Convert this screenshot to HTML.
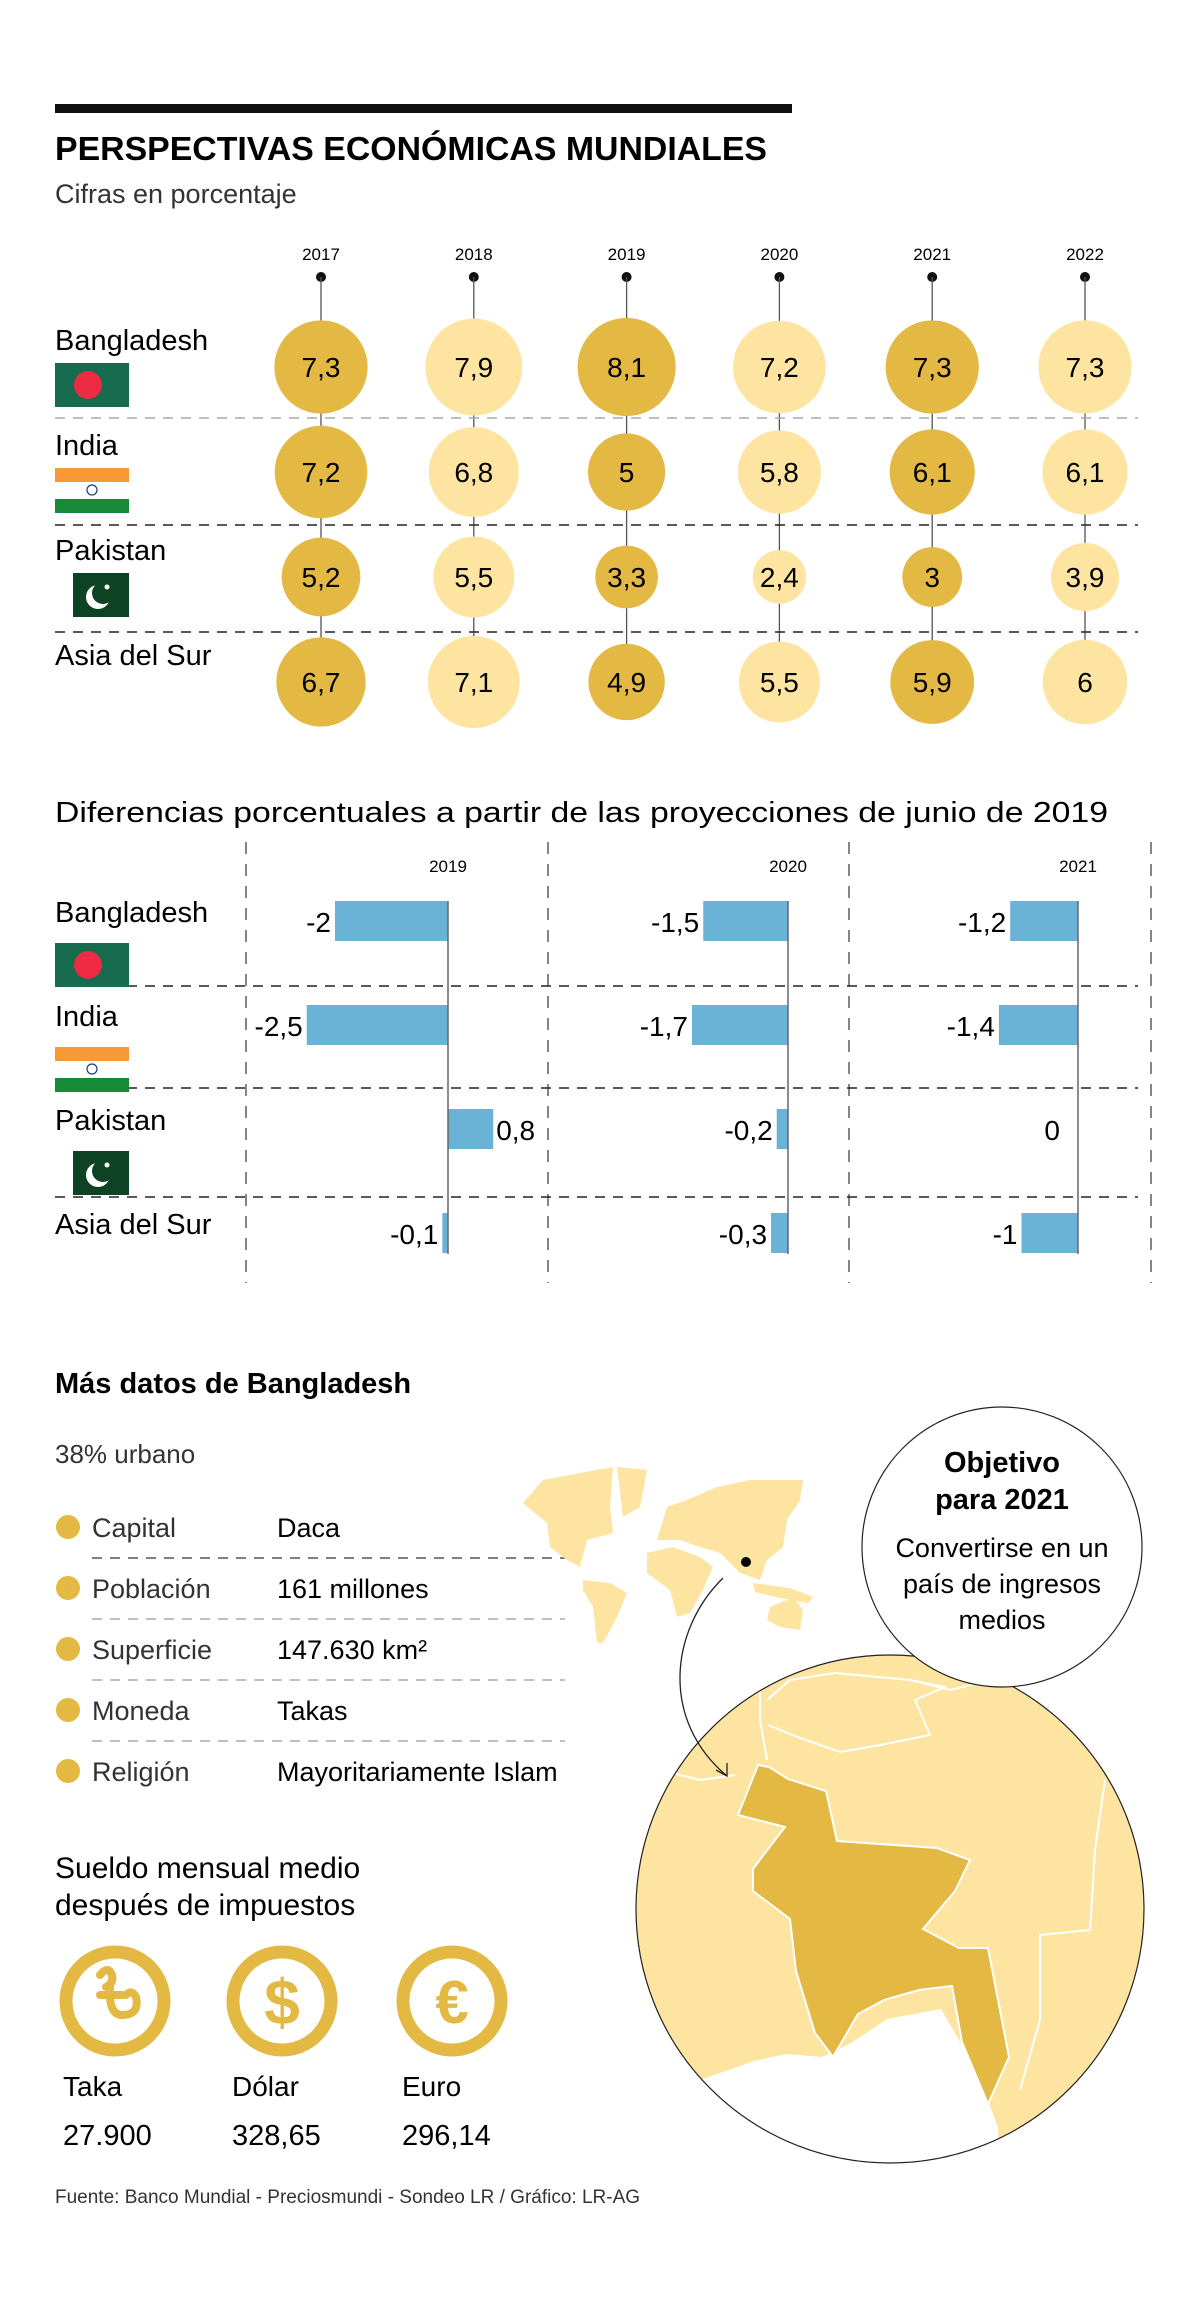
<!DOCTYPE html>
<html><head><meta charset="utf-8">
<style>
html,body{margin:0;padding:0;background:#fff;}
body{width:1200px;height:2311px;position:relative;overflow:hidden;font-family:"Liberation Sans",sans-serif;color:#111;}
svg{position:absolute;left:0;top:0;}
</style></head>
<body>
<svg id="main" width="1200" height="2311" viewBox="0 0 1200 2311">
  <rect x="55" y="104" width="737" height="9" fill="#111"/>
  <text x="55" y="160" font-size="33" font-weight="bold" textLength="712" lengthAdjust="spacingAndGlyphs">PERSPECTIVAS ECONÓMICAS MUNDIALES</text>
  <text x="55" y="203" font-size="27" fill="#333">Cifras en porcentaje</text>
  <g id="g1"></g>
  <text x="55" y="822" font-size="29" textLength="1053" lengthAdjust="spacingAndGlyphs">Diferencias porcentuales a partir de las proyecciones de junio de 2019</text>
  <g id="g2"></g>

  <text x="55" y="1393" font-size="29" font-weight="bold">Más datos de Bangladesh</text>
  <text x="55" y="1463" font-size="26" fill="#333">38% urbano</text>
  <g id="facts"></g>

  <text x="55" y="1878" font-size="30">Sueldo mensual medio</text>
  <text x="55" y="1915" font-size="30">después de impuestos</text>
  <g>
    <circle cx="115" cy="2001" r="49" fill="none" stroke="#e3b843" stroke-width="13"/>
    <path d="M100,1975 q8,-10 12,0 q2,8 -6,12 M100,1995 l22,0 M110,1985 q-2,30 12,30 q18,0 14,-18 q-4,-8 -10,-2" fill="none" stroke="#e3b843" stroke-width="8" stroke-linecap="round"/>
  </g>
  <g>
    <circle cx="282" cy="2001" r="49" fill="none" stroke="#e3b843" stroke-width="13"/>
    <text x="282" y="2024" font-size="64" font-weight="bold" fill="#e3b843" text-anchor="middle">$</text>
  </g>
  <g>
    <circle cx="452" cy="2001" r="49" fill="none" stroke="#e3b843" stroke-width="13"/>
    <text x="452" y="2023" font-size="60" font-weight="bold" fill="#e3b843" text-anchor="middle">€</text>
  </g>
  <text x="63" y="2096" font-size="28">Taka</text>
  <text x="232" y="2096" font-size="28">Dólar</text>
  <text x="402" y="2096" font-size="28">Euro</text>
  <text x="63" y="2145" font-size="29">27.900</text>
  <text x="232" y="2145" font-size="29">328,65</text>
  <text x="402" y="2145" font-size="29">296,14</text>
  <text x="55" y="2203" font-size="19" fill="#333">Fuente: Banco Mundial - Preciosmundi - Sondeo LR / Gráfico: LR-AG</text>

  <g fill="#fde4a0">
    <path d="M523,1503 L543,1480 L580,1473 L613,1467 L610,1507 L613,1533 L587,1540 L580,1567 L567,1560 L550,1547 L547,1523 Z"/>
    <path d="M617,1467 L647,1470 L640,1507 L623,1517 Z"/>
    <path d="M583,1580 L610,1583 L627,1593 L617,1617 L603,1643 L597,1643 L593,1607 L583,1590 Z"/>
    <path d="M647,1553 L673,1547 L700,1557 L713,1567 L703,1590 L690,1613 L677,1617 L670,1590 L647,1573 Z"/>
    <path d="M657,1540 L667,1507 L687,1500 L717,1487 L750,1480 L803,1480 L800,1500 L787,1520 L783,1547 L767,1560 L760,1580 L740,1573 L720,1553 L700,1547 L680,1540 Z"/>
    <path d="M753,1583 L790,1588 L813,1597 L808,1603 L775,1597 L755,1592 Z"/>
    <path d="M770,1607 L793,1597 L803,1610 L800,1630 L780,1627 L767,1620 Z"/>
  </g>
  <circle cx="746" cy="1562" r="5" fill="#000"/>

  <defs><clipPath id="gc"><circle cx="890" cy="1909" r="254"/></clipPath></defs>
  <g>
    <circle cx="890" cy="1909" r="254" fill="#fde4a0"/>
    <g clip-path="url(#gc)">
      <path d="M700,2080 L754,2061 L786,2054 L822,2057 L851,2043 L887,2019 L941,2009 L977,2071 L998,2128 L1000,2200 L620,2200 Z" fill="#fff"/>
      <path d="M758,1765 L738,1815 L785,1827 L765,1853 L753,1869 L753,1891 L790,1919 L796,1971 L815,2033 L833,2057 L858,2014 L884,2000 L919,1990 L952,1986 L962,2042 L988,2104 L1009,2057 L988,1948 L959,1948 L923,1929 L955,1891 L970,1860 L937,1848 L837,1841 L826,1791 L788,1779 L769,1767 Z" fill="#e3b843" stroke="#fff" stroke-width="2"/>
      <path d="M760,1660 L760,1720 L767,1760 M767,1700 L790,1680 L835,1673 L910,1680 L945,1687 L915,1700 L930,1735 L880,1745 L840,1752 L800,1738 L768,1725 M910,1680 L950,1690 L1000,1678 M660,1770 L700,1780 L735,1775 M1105,1780 L1095,1850 L1090,1930 L1040,1935 L1040,2020 L1020,2090" fill="none" stroke="#fff" stroke-width="2"/>
    </g>
    <circle cx="890" cy="1909" r="254" fill="none" stroke="#222" stroke-width="1.2"/>
  </g>
  <path d="M723,1578 C 670,1630 660,1720 727,1776" fill="none" stroke="#222" stroke-width="1.3"/>
  <path d="M716,1770 L727,1776 L727,1763" fill="none" stroke="#222" stroke-width="1.3"/>

  <g>
    <circle cx="1002" cy="1547" r="140" fill="#fff" stroke="#222" stroke-width="1.2"/>
    <text x="1002" y="1472" font-size="29" font-weight="bold" text-anchor="middle">Objetivo</text>
    <text x="1002" y="1509" font-size="29" font-weight="bold" text-anchor="middle">para 2021</text>
    <text x="1002" y="1557" font-size="27" text-anchor="middle">Convertirse en un</text>
    <text x="1002" y="1593" font-size="27" text-anchor="middle">país de ingresos</text>
    <text x="1002" y="1629" font-size="27" text-anchor="middle">medios</text>
  </g>
</svg>
<script>
// ---- Chart 1 data ----
const years = ["2017","2018","2019","2020","2021","2022"];
const countries = ["Bangladesh","India","Pakistan","Asia del Sur"];
const bangladeshGrowth = [7.3,7.9,8.1,7.2,7.3,7.3];
const indiaGrowth = [7.2,6.8,5,5.8,6.1,6.1];
const pakistanGrowth = [5.2,5.5,3.3,2.4,3,3.9];
const southAsiaGrowth = [6.7,7.1,4.9,5.5,5.9,6];
// ---- Chart 2 data ----
const diffYears = ["2019","2020","2021"];
const bangladeshDiff = [-2,-1.5,-1.2];
const indiaDiff = [-2.5,-1.7,-1.4];
const pakistanDiff = [0.8,-0.2,0];
const southAsiaDiff = [-0.1,-0.3,-1];

const NS="http://www.w3.org/2000/svg";
function mk(tag,attrs,parent,txt){const e=document.createElementNS(NS,tag);for(const k in attrs)e.setAttribute(k,attrs[k]);if(txt!==undefined)e.textContent=txt;parent.appendChild(e);return e;}
const fmt=v=>String(v).replace('.',',');

function flag(g,i,y){
  if(i===0){mk('rect',{x:55,y:y,width:74,height:44,fill:'#176b4f'},g);mk('circle',{cx:88,cy:y+22,r:14,fill:'#ee2b44'},g);}
  else if(i===1){mk('rect',{x:55,y:y,width:74,height:14,fill:'#f79a35'},g);mk('rect',{x:55,y:y+31,width:74,height:14,fill:'#178a37'},g);mk('circle',{cx:92,cy:y+22,r:5,fill:'none',stroke:'#1b3a8a','stroke-width':1.2},g);}
  else if(i===2){mk('rect',{x:73,y:y,width:56,height:44,fill:'#0d4225'},g);mk('circle',{cx:98,cy:y+24,r:12,fill:'#fff'},g);mk('circle',{cx:103,cy:y+20,r:11,fill:'#0d4225'},g);mk('circle',{cx:107,cy:y+14,r:2.5,fill:'#fff'},g);}
}

// Chart 1
const g1=document.getElementById('g1');
const series1=[bangladeshGrowth,indiaGrowth,pakistanGrowth,southAsiaGrowth];
const xCol=i=>321+i*152.8;
const yRow=i=>367+i*105;
const diam=v=>34.5*Math.sqrt(v);
years.forEach((yr,i)=>{
  const t=mk('text',{x:xCol(i),y:260,'font-size':17,'text-anchor':'middle'},g1,yr);
  
  
  mk('circle',{cx:xCol(i),cy:277,r:5,fill:'#111'},g1);
  mk('line',{x1:xCol(i),y1:277,x2:xCol(i),y2:720,stroke:'#555','stroke-width':1.3},g1);
});
[418,525,632].forEach((y,k)=>{
  const l=mk('line',{x1:55,y1:y,x2:1138,y2:y,stroke:k===0?'#aaa':'#222','stroke-width':1.5,'stroke-dasharray':'10,8'},g1);
  
  
});
countries.forEach((c,r)=>{
  const t=mk('text',{x:55,y:yRow(r)-17,'font-size':29},g1,c);
  
  
  flag(g1,r,yRow(r)-4);
  series1[r].forEach((v,i)=>{
    const b=mk('circle',{cx:xCol(i),cy:yRow(r),r:diam(v)/2,fill:i%2===0?'#e3b843':'#fde4a0'},g1);
    
    
    const tv=mk('text',{x:xCol(i),y:yRow(r)+10,'font-size':28,'text-anchor':'middle'},g1,fmt(v));
    
    
  });
});

// Chart 2
const g2=document.getElementById('g2');
const series2=[bangladeshDiff,indiaDiff,pakistanDiff,southAsiaDiff];
const zeroX=[448,788,1078];
const unit=56.5;
const xBar=(c,v)=>zeroX[c]+v*unit;
const barTop=[901,1005,1109,1213];
[246,548,849,1151].forEach(x=>{mk('line',{x1:x,y1:842,x2:x,y2:1283,stroke:'#444','stroke-width':1.3,'stroke-dasharray':'12,10'},g2);});
[986,1088,1197].forEach(y=>{mk('line',{x1:55,y1:y,x2:1138,y2:y,stroke:'#222','stroke-width':1.5,'stroke-dasharray':'10,8'},g2);});
diffYears.forEach((yr,c)=>{
  const t=mk('text',{x:zeroX[c],y:872,'font-size':17,'text-anchor':'middle'},g2,yr);
  
  
});
countries.forEach((cn,r)=>{
  const t=mk('text',{x:55,y:barTop[r]+21,'font-size':29},g2,cn);
  
  
  flag(g2,r,barTop[r]+42);
  series2[r].forEach((v,c)=>{
    const x0=Math.min(xBar(c,0),xBar(c,v)),w=Math.abs(xBar(c,v)-xBar(c,0));
    const b=mk('rect',{x:x0,y:barTop[r],width:w,height:40,fill:'#6ab2d6'},g2);
    
    
    const pos=v>0;
    const tv=mk('text',{x:pos?xBar(c,v)+3:xBar(c,v)-(v===0?18:4),y:barTop[r]+31,'font-size':28,'text-anchor':pos?'start':'end'},g2,fmt(v));
    
    
  });
});
zeroX.forEach(x=>{mk('line',{x1:x,y1:901,x2:x,y2:1254,stroke:'#666','stroke-width':1.5},g2);});

// Facts
const factLabels=["Capital","Población","Superficie","Moneda","Religión"];
const factValues=["Daca","161 millones","147.630 km²","Takas","Mayoritariamente Islam"];
const fg=document.getElementById('facts');
factLabels.forEach((l,i)=>{
  const y=1527+i*61;
  mk('circle',{cx:68,cy:y,r:12,fill:'#e3b843'},fg);
  const a=mk('text',{x:92,y:y+10,'font-size':27,fill:'#333'},fg,l);
  
  
  const b=mk('text',{x:277,y:y+10,'font-size':27},fg,factValues[i]);
  
  
  if(i<4)mk('line',{x1:92,y1:y+31,x2:565,y2:y+31,stroke:i===0?'#333':'#999','stroke-width':1.2,'stroke-dasharray':'10,8'},fg);
});
</script>
</body></html>
